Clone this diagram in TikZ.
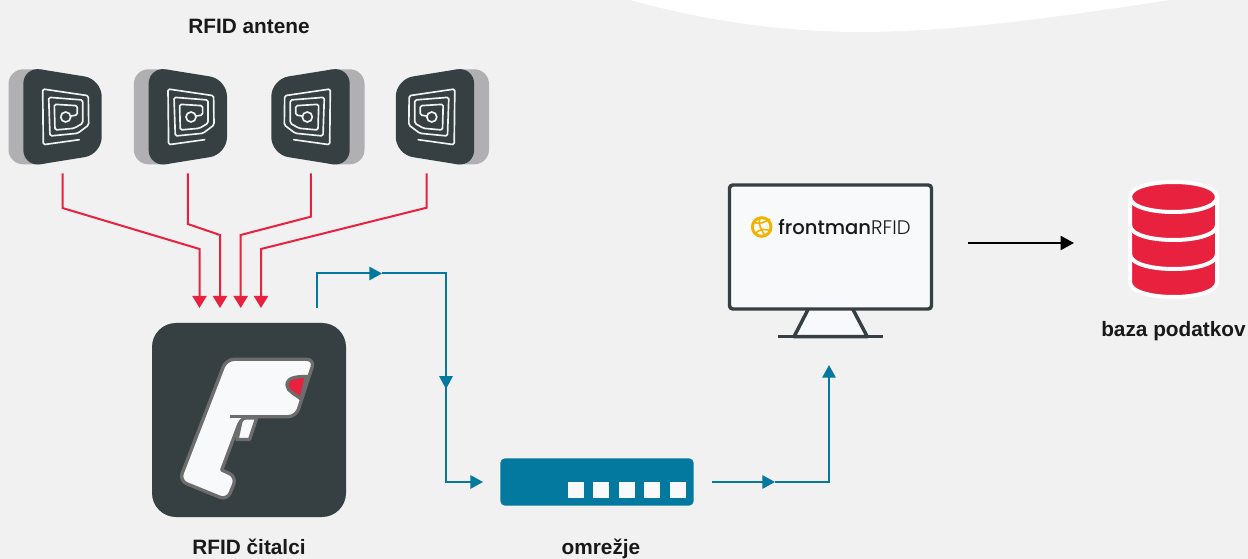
\documentclass[tikz,border=0pt]{standalone}
\usepackage{fontspec}
\setmainfont{Liberation Sans}
\newfontfamily\logobold{Poppins Medium}
\newfontfamily\logolight{Poppins Light}
\usetikzlibrary{arrows.meta}

\definecolor{panelgrey}{HTML}{F1F1F1}
\definecolor{slate}{HTML}{363F42}
\definecolor{shadegrey}{HTML}{B0B0B2}
\definecolor{wirered}{HTML}{E8213F}
\definecolor{wireblue}{HTML}{04799F}
\definecolor{paper}{HTML}{F8F9FB}
\definecolor{gunedge}{HTML}{6D6D6D}
\definecolor{logoyellow}{HTML}{F0B400}

\tikzset{
  caption/.style={inner sep=0pt,anchor=base,font=\fontsize{15.6}{18}\selectfont\bfseries,text=black!90},
  antbox/.style={inner sep=0pt,minimum width=58.5pt,minimum height=78pt},
  redwire/.style={draw=wirered,line width=1.5pt,-{Triangle[width=10.5pt,length=9pt]}},
  bluewire/.style={draw=wireblue,line width=1.5pt,-{Triangle[width=10pt,length=9.5pt]}},
  bluerun/.style={draw=wireblue,line width=1.5pt},
  antenna/.pic={
    \begin{scope}[yscale=-1]
    \fill[shadegrey,rounded corners=11pt] (-54,-47.5) rectangle (-8,47.5);
    \fill[slate,rounded corners=13pt] (-39.2,-50.2) -- (39.2,-37.6) -- (39.2,37.6) -- (-39.2,50.2) -- cycle;
    \draw[panelgrey,line width=1.25pt,line join=round,line cap=round,rounded corners=1.2pt]
      (16.8,22.9) -- (-19.2,27.9) -- (-19.8,-27.8) -- (25.8,-21.1) -- (26.2,8.2) -- (15.2,16.5)
      -- (-12.5,19.2) -- (-13.8,-19.5) -- (20.2,-16.8) -- (20.2,6.5) -- (11.5,11.5)
      -- (-7.5,13.2) -- (-8.2,-12.5) -- (14.8,-11.1) -- (14.8,-1.8) -- (8.5,-0.8);
    \draw[panelgrey,line width=1.25pt] (3.2,0.2) circle (5);
    \end{scope}
  }
}

\begin{document}
\begin{tikzpicture}[x=0.75pt,y=0.75pt,yscale=-1,xscale=1]
  \useasboundingbox (0,0) rectangle (1248,559);
  \fill[panelgrey] (0,0) rectangle (1248,559);

  % top sweep
  \fill[white] (630,0) .. controls (720,25) and (800,32) .. (860,32) .. controls (960,32) and (1070,15) .. (1170,0) -- cycle;

  % Antennas
  \node[antbox] (ant1) at (62.5,121) {};
  \node[antbox] (ant2) at (187.8,121) {};
  \node[antbox] (ant3) at (310.5,121) {};
  \node[antbox] (ant4) at (435,121) {};
  \pic at (62.5,116.8) {antenna};
  \pic at (187.8,116.8) {antenna};
  \pic[xscale=-1] at (310.5,116.8) {antenna};
  \pic[xscale=-1] at (435,116.8) {antenna};

  % Reader
  \node[fill=slate,rounded corners=18pt,minimum size=145.5pt,inner sep=0pt] (reader) at (249,420) {};
  \filldraw[fill=paper,draw=gunedge,line width=2.5pt,line join=round]
    (241.7,418) -- (256.7,418) -- (249.5,439.5) -- (237,439.5) -- cycle;
  \filldraw[fill=paper,draw=gunedge,line width=2.5pt,line join=round,rounded corners=6pt]
    (226.2,359.3) -- (314.7,359.3) -- (296,416.7) -- (241.7,416.7) [sharp corners] -- (221.7,470) [rounded corners=6pt]
    -- (236.7,476.7) -- (227.3,500.3) -- (179.3,480.7) -- cycle;
  \draw[gunedge,line width=2.5pt] (230,416.7) -- (290,416.7);
  \filldraw[fill=wirered,draw=gunedge,line width=2.5pt]
    (306.5,376.5) .. controls (295,376.5) and (287,378) .. (287,385) .. controls (287,391) and (295,394) .. (301,399) -- cycle;

  % Switch
  \node[fill=wireblue,rounded corners=3.5pt,minimum width=145pt,minimum height=35.5pt,inner sep=0pt] (switch) at (597,482) {};
  \foreach \px in {568,593,619,644,670}
    \fill[paper] (\px,482) rectangle ++(16,16);

  % Monitor
  \filldraw[fill=paper,draw=slate,line width=2.6pt,line join=round]
    (808.3,309) -- (794,336.7) -- (867.3,336.7) -- (852.7,309);
  \node[fill=paper,draw=slate,line width=2.6pt,rounded corners=2.5pt,minimum width=151.5pt,minimum height=93pt,inner sep=0pt] (monitor) at (830.5,247) {};
  \draw[slate,line width=2.6pt] (778.3,336.7) -- (883.3,336.7);

  % Logo
  \node[circle,draw=logoyellow,line width=2.2pt,minimum size=14pt,inner sep=0pt] (globe) at (761.7,227) {};
  \draw[logoyellow,line width=1.2pt] (753,222) .. controls (760,225) and (765,222) .. (770,219)
    (755,234) .. controls (760,228) and (766,229) .. (771,231) (760,218) .. controls (757,224) and (762,230) .. (765,236);
  \node[anchor=west,inner sep=0pt,font=\fontsize{14.7}{16}\selectfont,text=black!90] (logo) at (778,227.5) {{\logobold frontman}{\logolight RFID}};

  % Database
  \node[inner sep=0pt,minimum width=66pt,minimum height=88pt] (db) at (1173.5,239) {};
  \filldraw[fill=wirered,draw=white,line width=3pt,line join=round]
    (1130,197) .. controls (1130,177) and (1217,177) .. (1217,197) -- (1217,282)
    .. controls (1217,302) and (1130,302) .. (1130,282) -- cycle;
  \draw[white,line width=3pt] (1130,197) .. controls (1130,217) and (1217,217) .. (1217,197);
  \draw[white,line width=3pt] (1130,225) .. controls (1130,245) and (1217,245) .. (1217,225);
  \draw[white,line width=3pt] (1130,254) .. controls (1130,274) and (1217,274) .. (1217,254);

  % Red connectors
  \coordinate (redin1) at (199.5,308);
  \coordinate (redin2) at (220,308);
  \coordinate (redin3) at (240.7,308);
  \coordinate (redin4) at (261,308);
  \draw[redwire] (ant1.south) -- (62.5,208) -- (199.5,249) -- (redin1);
  \draw[redwire] (ant2.south) -- (187.8,224) -- (220,235) -- (redin2);
  \draw[redwire] ([xshift=0.2pt]ant3.south) -- (310.8,216.7) -- (240.7,235) -- (redin3);
  \draw[redwire] ([xshift=-6.2pt]ant4.south) -- (426.7,207.7) -- (261,249) -- (redin4);

  % Blue connectors
  \coordinate (readerout) at (316.7,308);
  \coordinate (bluetop) at (382,273.5);
  \coordinate (bluedown) at (446,389);
  \coordinate (switchout) at (775,482);
  \coordinate (monitorin) at (829,365);
  \draw[bluewire] (readerout) |- (bluetop);
  \draw[bluerun] (bluetop) -| (bluedown);
  \draw[bluewire,shorten >=12.75pt] (bluedown) |- (switch.west);
  \draw[bluewire,shorten <=13.5pt] (switch.east) -- (switchout);
  \draw[bluewire] (switchout) -| (monitorin);
  \fill[wireblue] (439,376) -- (453,376) -- (446,389) -- cycle;

  % Black connector
  \coordinate (pcout) at (968,243);
  \coordinate (dbin) at (1074,243);
  \draw[line width=1.5pt,-{Triangle[width=10.5pt,length=10pt]}] (pcout) -- (dbin);

  % Text Node
  \node[caption] (lblant) at (249,33.5) {RFID antene};
  \node[caption] (lblreader) at (249,554) {RFID čitalci};
  \node[caption] (lblswitch) at (601,554) {omrežje};
  \node[caption] (lbldb) at (1173.5,336.5) {baza podatkov};
\end{tikzpicture}
\end{document}
